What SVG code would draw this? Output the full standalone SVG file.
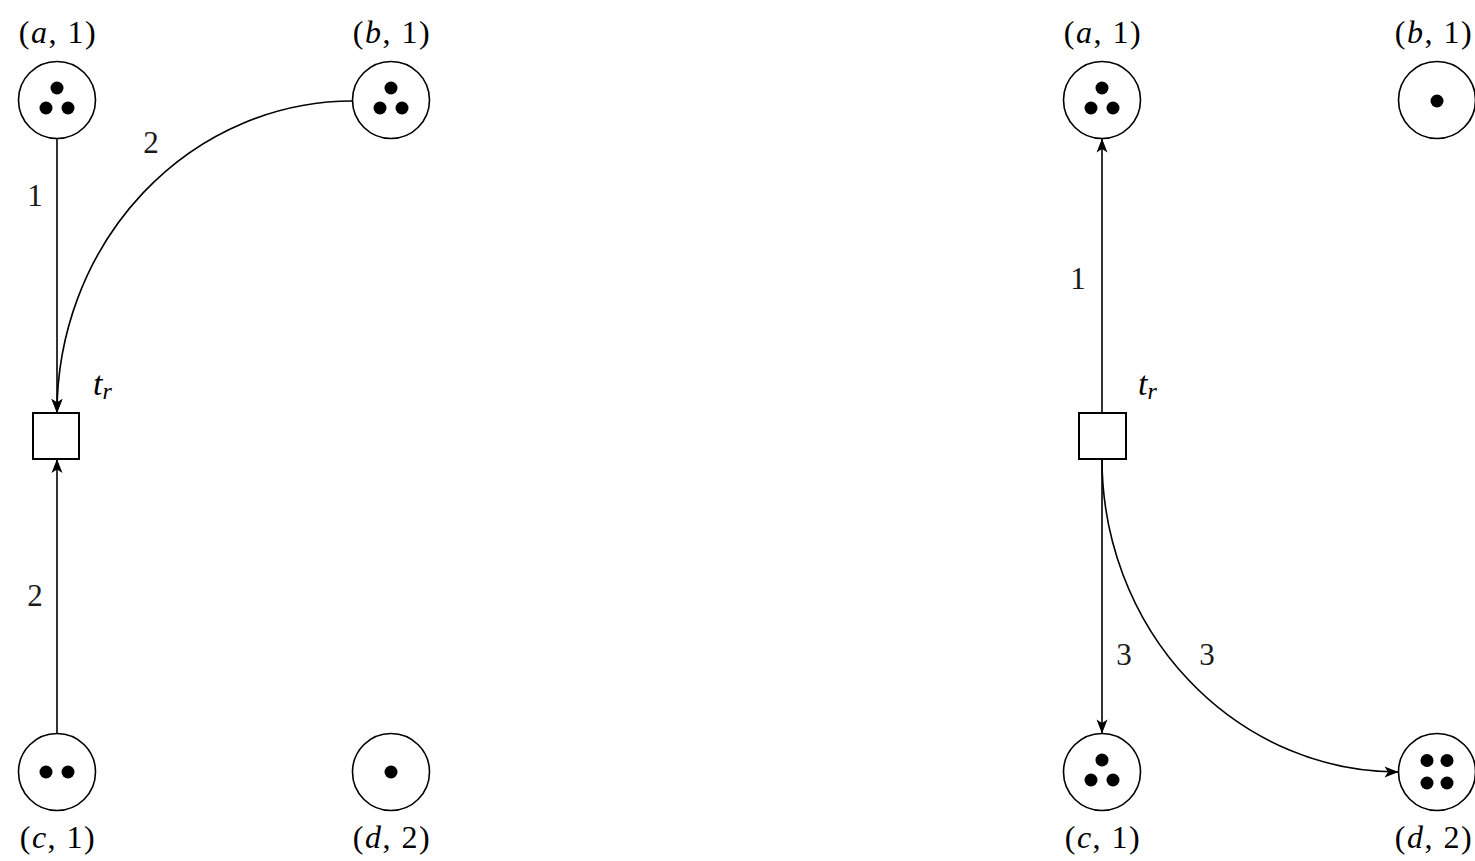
<svg xmlns="http://www.w3.org/2000/svg" width="1475" height="861" viewBox="0 0 1475 861">
  <style>
    .place { fill: #fff; stroke: #000; stroke-width: 1.6; }
    .tok { fill: #000; }
    .trans { fill: #fff; stroke: #000; stroke-width: 2; }
    .arc { fill: none; stroke: #000; stroke-width: 1.6; marker-end: url(#arrow); }
    .lbl { font-family: "Liberation Serif", "Times New Roman", serif; font-size: 32px; fill: #000; text-anchor: middle; letter-spacing: 1.5px; }
    .w { font-family: "Liberation Serif", "Times New Roman", serif; font-size: 31px; fill: #1a1a1a; text-anchor: middle; }
    .tn { font-family: "Liberation Serif", "Times New Roman", serif; font-size: 34px; font-style: italic; fill: #000; }
    .it { font-style: italic; }
  </style>
  <defs>
    <marker id="arrow" markerUnits="userSpaceOnUse" markerWidth="16" markerHeight="14" viewBox="0 0 16 14" refX="15" refY="7" orient="auto">
      <path d="M1,1.5 L15,7 L1,12.5 L4.5,7 Z" fill="#000"/>
    </marker>
  </defs>

  <rect width="1475" height="861" fill="#fff"/>

  <!-- connectors -->
  <g id="connectors">
    <!-- left net: input arcs into t_r -->
    <path class="arc" d="M57,138.5 L57,413"/>
    <path class="arc" d="M352.5,101 A295.5,312 0 0 0 57,413"/>
    <path class="arc" d="M57,733.5 L57,459"/>
    <!-- right net: output arcs of t_r -->
    <path class="arc" d="M1102,413 L1102,138.5"/>
    <path class="arc" d="M1102,459 L1102,733.5"/>
    <path class="arc" d="M1102,459 A296.5,313 0 0 0 1398.5,772"/>
    <!-- arc weights -->
    <text class="w" x="35" y="206">1</text>
    <text class="w" x="151" y="153">2</text>
    <text class="w" x="35" y="606">2</text>
    <text class="w" x="1078" y="289">1</text>
    <text class="w" x="1124" y="665">3</text>
    <text class="w" x="1207" y="665">3</text>
  </g>

  <!-- left net -->
  <g id="L_a">
    <circle class="place" cx="57" cy="100" r="38.5"/>
    <circle class="tok" cx="57" cy="88" r="6.5"/>
    <circle class="tok" cx="46" cy="108" r="6.5"/>
    <circle class="tok" cx="68" cy="108" r="6.5"/>
    <text class="lbl" x="58" y="43">(<tspan class="it">a</tspan>, 1)</text>
  </g>
  <g id="L_b">
    <circle class="place" cx="391" cy="100" r="38.5"/>
    <circle class="tok" cx="391" cy="88" r="6.5"/>
    <circle class="tok" cx="380" cy="108" r="6.5"/>
    <circle class="tok" cx="402" cy="108" r="6.5"/>
    <text class="lbl" x="392" y="43">(<tspan class="it">b</tspan>, 1)</text>
  </g>
  <g id="L_c">
    <circle class="place" cx="57" cy="772" r="38.5"/>
    <circle class="tok" cx="46" cy="772" r="6.5"/>
    <circle class="tok" cx="68" cy="772" r="6.5"/>
    <text class="lbl" x="58" y="848">(<tspan class="it">c</tspan>, 1)</text>
  </g>
  <g id="L_d">
    <circle class="place" cx="391" cy="772" r="38.5"/>
    <circle class="tok" cx="391" cy="772" r="6.5"/>
    <text class="lbl" x="392" y="848">(<tspan class="it">d</tspan>, 2)</text>
  </g>
  <g id="L_tr">
    <rect class="trans" x="33" y="413" width="46" height="46"/>
    <text class="tn" x="93" y="395">t<tspan font-size="24" dy="4">r</tspan></text>
  </g>

  <!-- right net -->
  <g id="R_a">
    <circle class="place" cx="1102" cy="100" r="38.5"/>
    <circle class="tok" cx="1102" cy="88" r="6.5"/>
    <circle class="tok" cx="1091" cy="108" r="6.5"/>
    <circle class="tok" cx="1113" cy="108" r="6.5"/>
    <text class="lbl" x="1103" y="43">(<tspan class="it">a</tspan>, 1)</text>
  </g>
  <g id="R_b">
    <circle class="place" cx="1437" cy="100" r="38.5"/>
    <circle class="tok" cx="1437" cy="101" r="6.5"/>
    <text class="lbl" x="1434" y="43">(<tspan class="it">b</tspan>, 1)</text>
  </g>
  <g id="R_c">
    <circle class="place" cx="1102" cy="772" r="38.5"/>
    <circle class="tok" cx="1102" cy="760" r="6.5"/>
    <circle class="tok" cx="1091" cy="780" r="6.5"/>
    <circle class="tok" cx="1113" cy="780" r="6.5"/>
    <text class="lbl" x="1103" y="848">(<tspan class="it">c</tspan>, 1)</text>
  </g>
  <g id="R_d">
    <circle class="place" cx="1437" cy="772" r="38.5"/>
    <circle class="tok" cx="1427" cy="760.5" r="6.5"/>
    <circle class="tok" cx="1447" cy="760.5" r="6.5"/>
    <circle class="tok" cx="1427" cy="783" r="6.5"/>
    <circle class="tok" cx="1447" cy="783" r="6.5"/>
    <text class="lbl" x="1434" y="848">(<tspan class="it">d</tspan>, 2)</text>
  </g>
  <g id="R_tr">
    <rect class="trans" x="1079" y="413" width="47" height="46"/>
    <text class="tn" x="1138" y="395">t<tspan font-size="24" dy="4">r</tspan></text>
  </g>
</svg>
